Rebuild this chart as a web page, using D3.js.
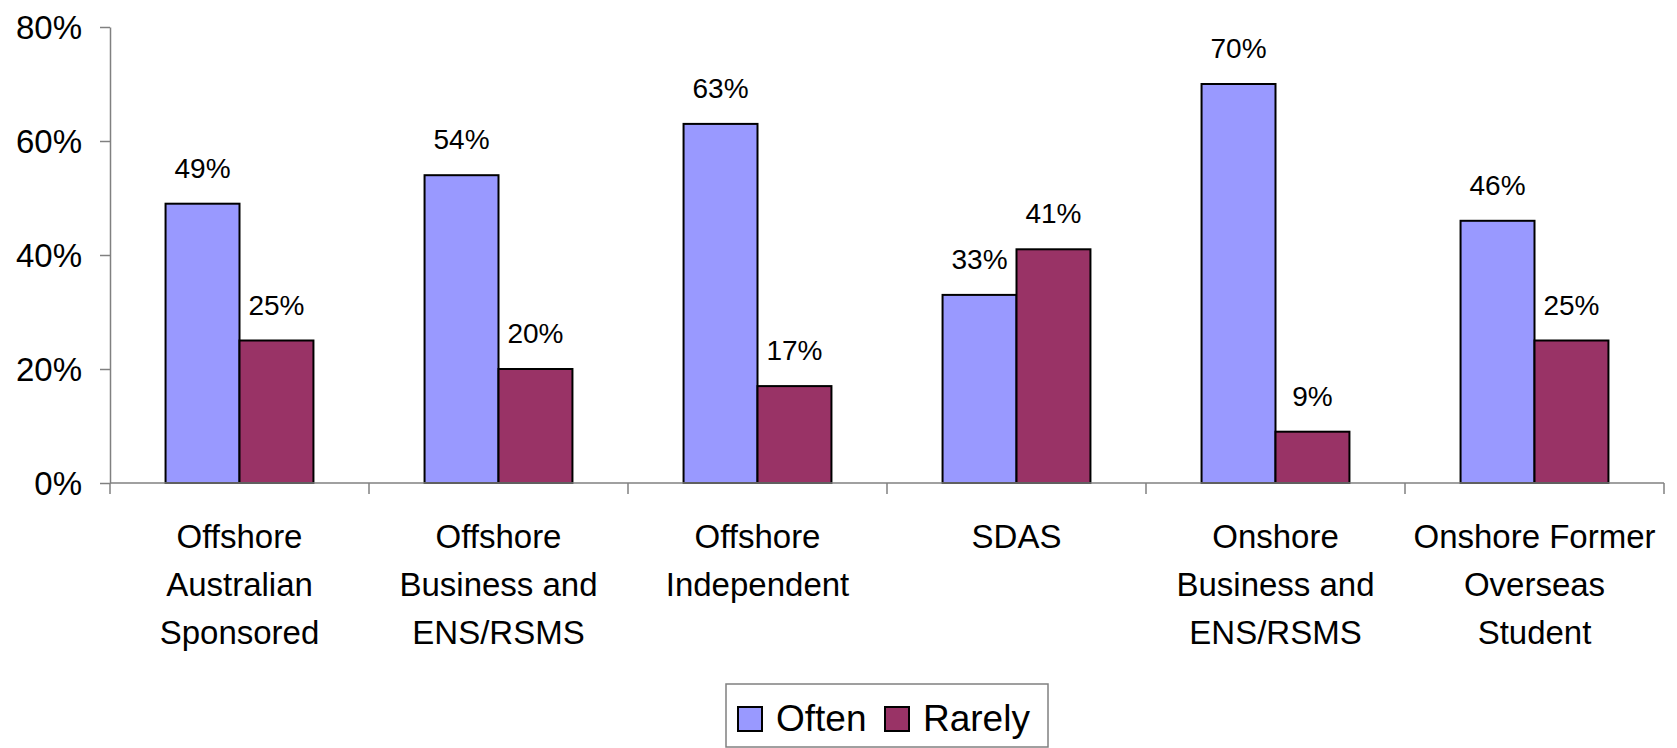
<!DOCTYPE html>
<html>
<head>
<meta charset="utf-8">
<script src="https://cdn.jsdelivr.net/npm/d3@7"></script>
<style>
  body { margin: 0; background: #fff; }
  text { font-family: "Liberation Sans", Arial, sans-serif; fill: #000; }
</style>
</head>
<body>
<div id="chart"></div>
<script>
var w = 1677;
var h = 748;

var categories = [
  ["Offshore", "Australian", "Sponsored"],
  ["Offshore", "Business and", "ENS/RSMS"],
  ["Offshore", "Independent"],
  ["SDAS"],
  ["Onshore", "Business and", "ENS/RSMS"],
  ["Onshore Former", "Overseas", "Student"]
];
var series = ["Often", "Rarely"];
var often = [49, 54, 63, 33, 70, 46];
var rarely = [25, 20, 17, 41, 9, 25];
var yTicks = [0, 20, 40, 60, 80];
var colors = ["#9999ff", "#993366"];

var keys = categories.map(function(c, i) { return "c" + i; });
var dataset = keys.map(function(k, i) {
  return {key: k, values: [often[i], rarely[i]]};
});

var plotLeft = 110, plotRight = 1664, plotTop = 27, plotBottom = 483;

var x0 = d3.scaleBand()
           .domain(keys)
           .range([plotLeft, plotRight]);

var x1 = d3.scaleBand()
           .domain(series)
           .range([x0.bandwidth() * 0.2145, x0.bandwidth() * 0.7855]);

var y = d3.scaleLinear()
          .domain([0, 80])
          .range([plotBottom, plotTop]);

var svg = d3.select("#chart")
            .append("svg")
            .attr("width", w)
            .attr("height", h);

// y axis
var yAxis = d3.axisLeft(y)
              .tickValues(yTicks)
              .tickFormat(function(d) { return d + "%"; })
              .tickSize(10)
              .tickSizeOuter(0)
              .tickPadding(18);

var ya = svg.append("g")
   .attr("transform", "translate(" + plotLeft + ",0)")
   .call(yAxis);
ya.selectAll("path, line").attr("stroke", "#808080").attr("stroke-width", 1.5);
ya.selectAll("text")
  .style("font-size", "33px")
  .attr("fill", "#000")
  .attr("dy", "0.35em");

// bars
var groups = svg.append("g")
   .selectAll("g")
   .data(dataset)
   .enter()
   .append("g")
   .attr("transform", function(d) { return "translate(" + x0(d.key) + ",0)"; });

groups.selectAll("rect")
   .data(function(d) { return d.values.map(function(v, j) { return {s: series[j], v: v, j: j}; }); })
   .enter()
   .append("rect")
   .attr("x", function(d) { return x1(d.s); })
   .attr("y", function(d) { return y(d.v); })
   .attr("width", x1.bandwidth())
   .attr("height", function(d) { return y(0) - y(d.v); })
   .attr("fill", function(d) { return colors[d.j]; })
   .attr("stroke", "#000")
   .attr("stroke-width", 2);

groups.selectAll("text.val")
   .data(function(d) { return d.values.map(function(v, j) { return {s: series[j], v: v}; }); })
   .enter()
   .append("text")
   .attr("class", "val")
   .attr("x", function(d) { return x1(d.s) + x1.bandwidth() / 2; })
   .attr("y", function(d) { return y(d.v) - 26; })
   .attr("text-anchor", "middle")
   .style("font-size", "28px")
   .text(function(d) { return d.v + "%"; });

// x axis
var xa = svg.append("g");
xa.append("line")
  .attr("x1", plotLeft).attr("x2", plotRight)
  .attr("y1", plotBottom).attr("y2", plotBottom)
  .attr("stroke", "#808080").attr("stroke-width", 1.5);

var bounds = keys.map(function(k) { return x0(k); }).concat([plotRight]);
xa.selectAll("line.tick")
  .data(bounds)
  .enter()
  .append("line")
  .attr("class", "tick")
  .attr("x1", function(d) { return d; })
  .attr("x2", function(d) { return d; })
  .attr("y1", plotBottom)
  .attr("y2", plotBottom + 11)
  .attr("stroke", "#808080").attr("stroke-width", 1.5);

xa.selectAll("text")
  .data(categories)
  .enter()
  .append("text")
  .attr("text-anchor", "middle")
  .style("font-size", "33px")
  .attr("transform", function(d, i) {
    return "translate(" + (x0(keys[i]) + x0.bandwidth() / 2) + ",548)";
  })
  .selectAll("tspan")
  .data(function(d) { return d; })
  .enter()
  .append("tspan")
  .attr("x", 0)
  .attr("y", function(d, i) { return i * 48; })
  .text(function(d) { return d; });

// legend
var legend = svg.append("g");
legend.append("rect")
  .attr("x", 726).attr("y", 684)
  .attr("width", 322).attr("height", 63)
  .attr("fill", "#fff")
  .attr("stroke", "#808080")
  .attr("stroke-width", 1.5);

var legendX = [738, 885];
series.forEach(function(s, i) {
  legend.append("rect")
    .attr("x", legendX[i]).attr("y", 707)
    .attr("width", 24).attr("height", 24)
    .attr("fill", colors[i])
    .attr("stroke", "#000")
    .attr("stroke-width", 2);
  legend.append("text")
    .attr("x", legendX[i] + 38)
    .attr("y", 731)
    .style("font-size", "37px")
    .text(s);
});
</script>
</body>
</html>
